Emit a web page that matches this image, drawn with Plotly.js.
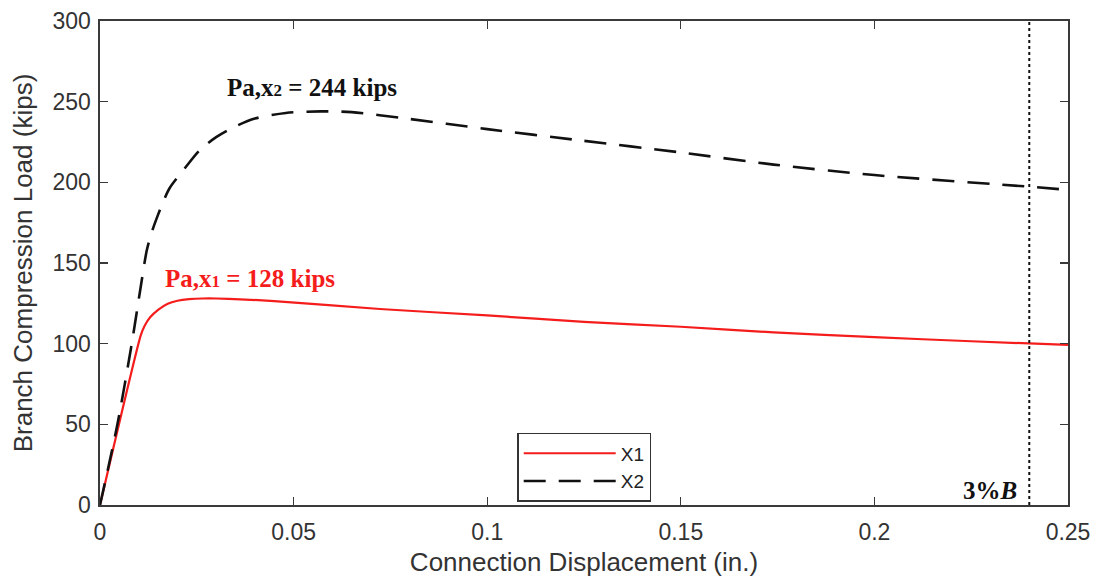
<!DOCTYPE html>
<html>
<head>
<meta charset="utf-8">
<script src="https://cdn.plot.ly/plotly-3.0.1.min.js"></script>
<style>html,body{margin:0;padding:0;background:#fff;}#chart{width:1095px;height:579px;}</style>
</head>
<body>
<div id="chart"></div>
<script>
// X1 series (red, solid)
const x1Disp = [0, 0.0105, 0.0115, 0.013, 0.015, 0.0175, 0.02, 0.023, 0.0265, 0.03, 0.0362, 0.045, 0.0723, 0.1, 0.125, 0.15, 0.174, 0.2, 0.225, 0.25];
const x1Load = [0, 105, 111, 116.5, 121, 124.8, 126.6, 127.6, 128, 128, 127.5, 126.4, 121.5, 117.5, 113.5, 110.5, 107, 104, 101.5, 99.2];
// X2 series (black, dashed)
const x2Disp = [0, 0.0045, 0.0082, 0.0105, 0.0121, 0.0135, 0.015, 0.0165, 0.018, 0.022, 0.0258, 0.03, 0.0344, 0.04, 0.048, 0.057, 0.065, 0.0775, 0.1, 0.124, 0.15, 0.174, 0.2, 0.24, 0.25];
const x2Load = [0, 50, 100, 135, 158, 170, 180, 189, 196.5, 209, 220, 228, 234, 239.5, 243, 244, 243.5, 240, 233, 226, 218.5, 211, 204.5, 197.3, 195.3];
// 3%B limit
const limitX = [0.24, 0.24];
const limitY = [0, 300];
const seriesNames = ["X1", "X2"];
const xTicks = [0, 0.05, 0.1, 0.15, 0.2, 0.25];
const yTicks = [0, 50, 100, 150, 200, 250, 300];

const traces = [
  {x: x1Disp, y: x1Load, name: seriesNames[0], mode: 'lines', line: {color: '#f51c1c', width: 2.2, shape: 'spline', smoothing: 0.6}},
  {x: x2Disp, y: x2Load, name: seriesNames[1], mode: 'lines', line: {color: '#111', width: 2.6, dash: '22px,13px', shape: 'spline', smoothing: 0.8}},
  {x: limitX, y: limitY, mode: 'lines', showlegend: false, line: {color: '#111', width: 2, dash: 'dot'}}
];

const sans = 'Liberation Sans, Arial, sans-serif';
const serif = 'Liberation Serif, Times New Roman, serif';

const axisBase = {
  showline: true, linecolor: '#3a3a3a', linewidth: 1.6, mirror: 'allticks',
  ticks: 'inside', ticklen: 8, tickwidth: 1.3, tickcolor: '#3a3a3a',
  showgrid: false, zeroline: false,
  tickfont: {family: sans, size: 23, color: '#333'}
};

const layout = {
  width: 1095, height: 579,
  margin: {l: 100, r: 27, t: 21, b: 74},
  paper_bgcolor: '#fff', plot_bgcolor: '#fff',
  xaxis: Object.assign({}, axisBase, {
    range: [0, 0.25], tickvals: xTicks, ticktext: xTicks.map(String),
    ticklabelstandoff: 6,
    title: {text: 'Connection Displacement (in.)', standoff: 8, font: {family: sans, size: 26, color: '#333'}}
  }),
  yaxis: Object.assign({}, axisBase, {
    range: [0, 300], tickvals: yTicks,
    ticklabelstandoff: 3,
    title: {text: 'Branch Compression Load (kips)', standoff: 12, font: {family: sans, size: 26, color: '#333'}}
  }),
  legend: {
    x: 0.431, y: 0.149, xanchor: 'left', yanchor: 'top',
    bgcolor: '#fff', bordercolor: '#333', borderwidth: 1.5,
    font: {family: sans, size: 19, color: '#222'},
    itemwidth: 92, tracegroupgap: 2
  },
  annotations: [
    {x: 0.0548, y: 258.5, xref: 'x', yref: 'y', showarrow: false,
     text: "<b>Pa,x<span style='font-size:17px'>2</span> = 244 kips</b>",
     font: {family: serif, size: 25, color: '#111'}},
    {x: 0.0387, y: 140.7, xref: 'x', yref: 'y', showarrow: false,
     text: "<b>Pa,x<span style='font-size:17px'>1</span> = 128 kips</b>",
     font: {family: serif, size: 25, color: '#f51c1c'}},
    {x: 0.2373, y: 9, xref: 'x', yref: 'y', xanchor: 'right', showarrow: false,
     text: "<b>3%<i>B</i></b>",
     font: {family: serif, size: 25, color: '#111'}}
  ]
};

Plotly.newPlot('chart', traces, layout, {displayModeBar: false, staticPlot: true});
</script>
</body>
</html>
